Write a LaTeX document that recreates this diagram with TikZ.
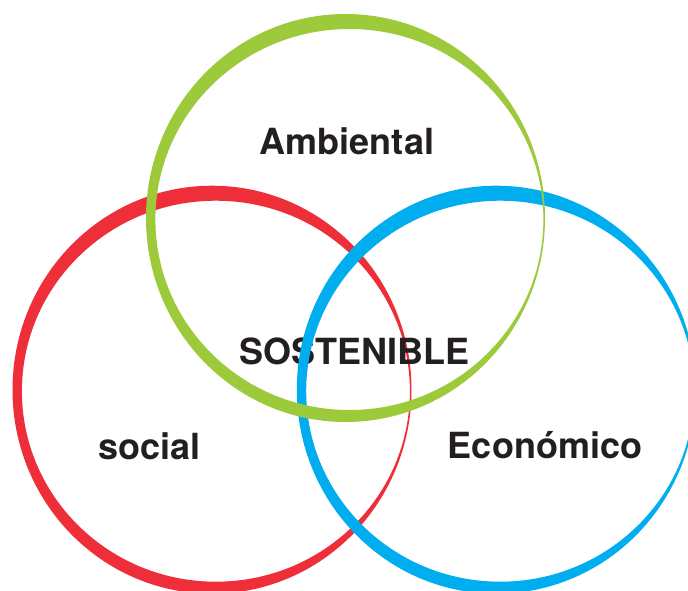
\documentclass[tikz,border=0pt]{standalone}
\usepackage{fontspec}
\setmainfont{TeX Gyre Heros}
\usepackage{xcolor}
\usepackage{tikz}
\usetikzlibrary{positioning,calc}

\definecolor{ringred}{HTML}{EE2E38}
\definecolor{ringblue}{HTML}{00AEEF}
\definecolor{ringgreen}{HTML}{9DCA3B}
\definecolor{txtdark}{HTML}{231F20}

\tikzset{
    lbl/.style={anchor=base, inner sep=0pt, text=txtdark, font=\fontsize{36}{40}\selectfont\bfseries}
}

% brush ring: thick at top, thin on the right
\newcommand{\brushring}[2]{%
    \fill[#2, even odd rule] (#1) ellipse [x radius=199.5, y radius=204]
        ($(#1)+(3.9,1.5)$) ellipse [x radius=194, y radius=190.5];}

\begin{document}
\begin{tikzpicture}[x=1pt, y=-1pt]
    \clip (0,0) rectangle (688,590);
    \fill[white] (0,0) rectangle (688,590);

    % centres of the three rings
    \coordinate (amb) at (345.5,218);
    \coordinate (soc) at (212,389.7);
    \coordinate (eco) at (496.3,389.7);

    % social ring
    \brushring{soc}{ringred}

    % labels
    \node[lbl] (ambiental) at (347,154) {Ambiental};
    \node[lbl] (sostenible) at (354.5,364) {SOSTENIBLE};
    \node[lbl] (social) at (149.5,459) {social};
    \node[lbl] (economico) at (545,458) {Económico};

    % economic and environmental rings
    \brushring{eco}{ringblue}
    \brushring{amb}{ringgreen}
\end{tikzpicture}
\end{document}
